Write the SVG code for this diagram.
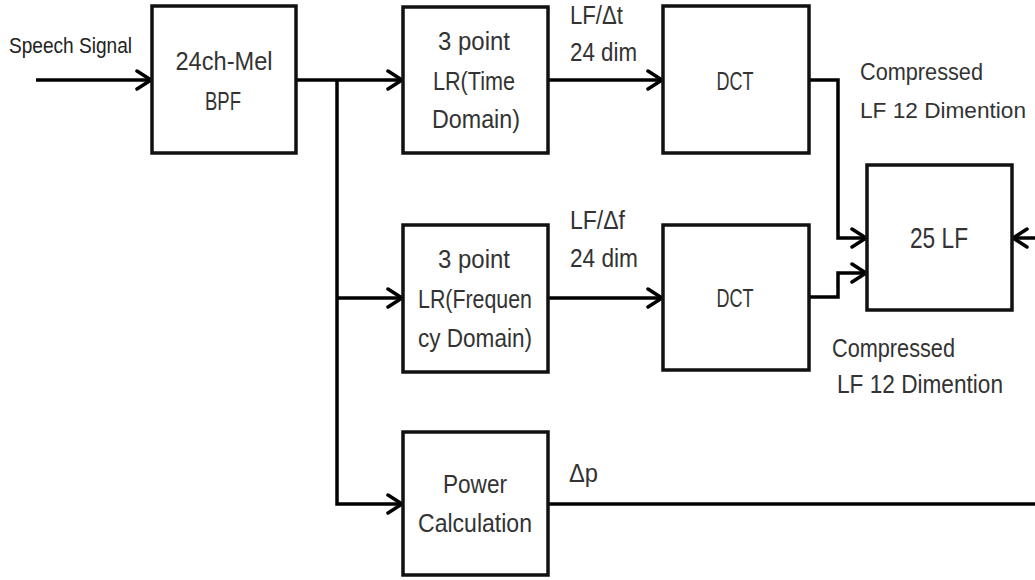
<svg xmlns="http://www.w3.org/2000/svg" width="1035" height="580" viewBox="0 0 1035 580">
<style>
.box{fill:#fff;stroke:#111;stroke-width:3.5}
.wire{fill:none;stroke:#000;stroke-width:3.5;stroke-linejoin:miter}
.t{font-family:"Liberation Sans",Arial,sans-serif;font-size:26px;fill:#333}
.c{text-anchor:middle}
</style>
<defs>
<marker id="arr" viewBox="-18 -12 20 24" refX="0" refY="0" markerWidth="20" markerHeight="24" markerUnits="userSpaceOnUse" orient="auto">
<path d="M-14,-9 L0,0 L-14,9" fill="none" stroke="#000" stroke-width="3.5" stroke-linejoin="round" stroke-linecap="round"/>
</marker>
</defs>
<rect width="1035" height="580" fill="#fff"/>
<g id="connectors">
<path class="wire" d="M36,80 H151" marker-end="url(#arr)"/>
<path class="wire" d="M296,80 H402" marker-end="url(#arr)"/>
<path class="wire" d="M337,80 V504 H402" marker-end="url(#arr)"/>
<path class="wire" d="M337,298 H402" marker-end="url(#arr)"/>
<path class="wire" d="M548,80 H662" marker-end="url(#arr)"/>
<path class="wire" d="M548,298 H662" marker-end="url(#arr)"/>
<path class="wire" d="M809,80 H838 V238 H866" marker-end="url(#arr)"/>
<path class="wire" d="M809,297 H838 V273 H866" marker-end="url(#arr)"/>
<path class="wire" d="M1035,238 H1013" marker-end="url(#arr)"/>
<path class="wire" d="M548,504 H1035"/>
</g>
<g id="input-label">
<text class="t" x="9" y="53" textLength="123" lengthAdjust="spacingAndGlyphs" style="font-size:22px;fill:#222">Speech Signal</text>
</g>
<g id="bpf">
<rect class="box" x="152" y="6" width="144" height="147"/>
<text class="t c" x="224" y="70" textLength="97" lengthAdjust="spacingAndGlyphs">24ch-Mel</text>
<text class="t c" x="223" y="110" textLength="36" lengthAdjust="spacingAndGlyphs">BPF</text>
</g>
<g id="lr-time">
<rect class="box" x="403" y="7" width="145" height="146"/>
<text class="t c" x="474" y="50" textLength="72" lengthAdjust="spacingAndGlyphs">3 point</text>
<text class="t c" x="474" y="90" textLength="82" lengthAdjust="spacingAndGlyphs">LR(Time</text>
<text class="t c" x="476" y="128" textLength="88" lengthAdjust="spacingAndGlyphs">Domain)</text>
</g>
<g id="label-dt">
<text class="t" x="570" y="24" textLength="53" lengthAdjust="spacingAndGlyphs">LF/Δt</text>
<text class="t" x="570" y="61" textLength="67" lengthAdjust="spacingAndGlyphs">24 dim</text>
</g>
<g id="dct-top">
<rect class="box" x="663" y="6" width="146" height="147"/>
<text class="t c" x="735" y="90" textLength="37" lengthAdjust="spacingAndGlyphs">DCT</text>
</g>
<g id="label-compressed-top">
<text class="t" x="860" y="80" textLength="123" lengthAdjust="spacingAndGlyphs" style="font-size:24px">Compressed</text>
<text class="t" x="860" y="118" textLength="166" lengthAdjust="spacingAndGlyphs" style="font-size:22.5px">LF 12 Dimention</text>
</g>
<g id="lf25">
<rect class="box" x="867" y="165" width="145" height="145"/>
<text class="t c" x="939" y="248" textLength="58" lengthAdjust="spacingAndGlyphs" style="font-size:30px">25 LF</text>
</g>
<g id="lr-freq">
<rect class="box" x="403" y="225" width="145" height="147"/>
<text class="t c" x="474" y="268" textLength="72" lengthAdjust="spacingAndGlyphs">3 point</text>
<text class="t c" x="475" y="308" textLength="114" lengthAdjust="spacingAndGlyphs">LR(Frequen</text>
<text class="t c" x="475" y="347" textLength="114" lengthAdjust="spacingAndGlyphs">cy Domain)</text>
</g>
<g id="label-df">
<text class="t" x="570" y="229" textLength="55" lengthAdjust="spacingAndGlyphs">LF/Δf</text>
<text class="t" x="570" y="267" textLength="68" lengthAdjust="spacingAndGlyphs">24 dim</text>
</g>
<g id="dct-bottom">
<rect class="box" x="663" y="225" width="146" height="145"/>
<text class="t c" x="735" y="307" textLength="37" lengthAdjust="spacingAndGlyphs">DCT</text>
</g>
<g id="label-compressed-bottom">
<text class="t" x="832" y="357" textLength="123" lengthAdjust="spacingAndGlyphs">Compressed</text>
<text class="t" x="837" y="393" textLength="166" lengthAdjust="spacingAndGlyphs">LF 12 Dimention</text>
</g>
<g id="power">
<rect class="box" x="403" y="432" width="145" height="143"/>
<text class="t c" x="475" y="493" textLength="64" lengthAdjust="spacingAndGlyphs">Power</text>
<text class="t c" x="475" y="532" textLength="114" lengthAdjust="spacingAndGlyphs">Calculation</text>
</g>
<g id="label-dp">
<text class="t" x="569" y="482" textLength="29" lengthAdjust="spacingAndGlyphs">Δp</text>
</g>
</svg>
